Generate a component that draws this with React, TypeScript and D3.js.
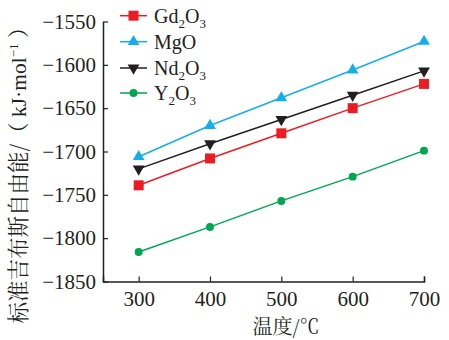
import React, { useRef, useEffect } from "react";
import * as d3 from "d3";

const temps = [300, 400, 500, 600, 700];
const gd2o3 = [-1739, -1708, -1679, -1650, -1622];
const mgo = [-1706, -1670, -1638, -1606, -1573];
const nd2o3 = [-1720, -1691, -1663, -1635, -1607];
const y2o3 = [-1816, -1787, -1757, -1729, -1699];
const yTicks = [-1550, -1600, -1650, -1700, -1750, -1800, -1850];

type Series = {
    name: string;
    parts: [string, boolean][];
    values: number[];
    color: string;
    symbol: d3.SymbolType;
    size: number;
    rotate: number;
};

const oxide = (el: string): [string, boolean][] => [[el, false], ["2", true], ["O", false], ["3", true]];

const series: Series[] = [
    { name: "Gd2O3", parts: oxide("Gd"), values: gd2o3, color: "#ec1c24", symbol: d3.symbolSquare, size: 100, rotate: 0 },
    { name: "MgO", parts: [["MgO", false]], values: mgo, color: "#16aeea", symbol: d3.symbolTriangle, size: 60, rotate: 0 },
    { name: "Nd2O3", parts: oxide("Nd"), values: nd2o3, color: "#231f20", symbol: d3.symbolTriangle, size: 60, rotate: 180 },
    { name: "Y2O3", parts: oxide("Y"), values: y2o3, color: "#00a651", symbol: d3.symbolCircle, size: 50, rotate: 0 },
];

const W = 449;
const H = 340;
const font = "'Liberation Serif', 'Times New Roman', serif";
const cjk = "'Noto Serif CJK SC', 'Noto Sans CJK SC', serif";

const App: React.FC = () => {
    const svgRef = useRef<SVGSVGElement | null>(null);

    useEffect(() => {
        if (!svgRef.current) return;
        const svg = d3.select(svgRef.current);
        svg.selectAll("*").remove();

        const x = d3.scaleLinear().domain([250, 700]).range([103, 424]);
        const y = d3.scaleLinear().domain([-1850, -1550]).range([281.5, 21.5]);

        // axes
        const xAxis = d3.axisBottom(x).tickValues(temps).tickSizeInner(-5).tickSizeOuter(-5).tickPadding(10);
        const gx = svg.append("g").attr("transform", `translate(0,${y(-1850)})`).call(xAxis);
        gx.selectAll("text").attr("font-size", 21).attr("font-family", font).attr("fill", "#231f20");

        const yAxis = d3.axisLeft(y).tickValues(yTicks).tickSizeInner(-5).tickSizeOuter(0).tickPadding(7)
            .tickFormat(d => "\u2212" + Math.abs(d as number));
        const gy = svg.append("g").attr("transform", `translate(${x(250)},0)`).call(yAxis);
        gy.selectAll("text").attr("font-size", 21).attr("font-family", font).attr("fill", "#231f20");

        svg.selectAll(".domain").attr("stroke", "#231f20").attr("stroke-width", 1.5);
        svg.selectAll(".tick line").attr("stroke", "#231f20").attr("stroke-width", 1.2);

        // lines
        const line = d3.line<number>().x((_, i) => x(temps[i])).y(d => y(d));
        series.forEach(s => {
            svg.append("path").attr("d", line(s.values)).attr("fill", "none")
                .attr("stroke", s.color).attr("stroke-width", 1.5);
            const sym = d3.symbol().type(s.symbol).size(s.size);
            svg.append("g").selectAll("path").data(s.values).enter().append("path")
                .attr("d", sym() as string)
                .attr("transform", (d, i) => `translate(${x(temps[i])},${y(d)}) rotate(${s.rotate})`)
                .attr("fill", s.color);
        });

        // legend
        const rows = [15.7, 41.7, 68, 93];
        series.forEach((s, i) => {
            const g = svg.append("g").attr("transform", `translate(120,${rows[i]})`);
            g.append("line").attr("x1", 0).attr("x2", 27).attr("stroke", s.color).attr("stroke-width", 1.5);
            const sym = d3.symbol().type(s.symbol).size(s.size);
            g.append("path").attr("d", sym() as string).attr("transform", `translate(13.5,0) rotate(${s.rotate})`).attr("fill", s.color);
            const t = g.append("text").attr("x", 34).attr("y", 7).attr("font-size", 20)
                .attr("font-family", font).attr("fill", "#231f20");
            let shifted = false;
            s.parts.forEach(([txt, sub]) => {
                const sp = t.append("tspan").text(txt);
                if (sub) {
                    sp.attr("font-size", 13).attr("dy", shifted ? 0 : 5);
                    shifted = true;
                } else if (shifted) {
                    sp.attr("dy", -5);
                    shifted = false;
                }
            });
        });

        // axis titles
        const yt = svg.append("text").attr("transform", `translate(26,170) rotate(-90)`)
            .attr("text-anchor", "middle").attr("font-size", 21.5).attr("fill", "#231f20");
        yt.append("tspan").attr("font-family", cjk).text("标准吉布斯自由能/（ ");
        yt.append("tspan").attr("font-family", font).text("kJ·mol");
        yt.append("tspan").attr("font-family", font).attr("font-size", 13).attr("dy", -8).text("−1");
        yt.append("tspan").attr("font-family", cjk).attr("dy", 8).text(" ）");

        svg.append("text").attr("x", 286).attr("y", 334).attr("text-anchor", "middle")
            .attr("font-size", 20).attr("font-family", cjk).attr("fill", "#231f20").text("温度/℃");
    }, []);

    return (
        <svg ref={svgRef} width={W} height={H}
            style={{ position: "absolute", left: 0, top: 0, background: "#fff" }} />
    );
};

export default App;
